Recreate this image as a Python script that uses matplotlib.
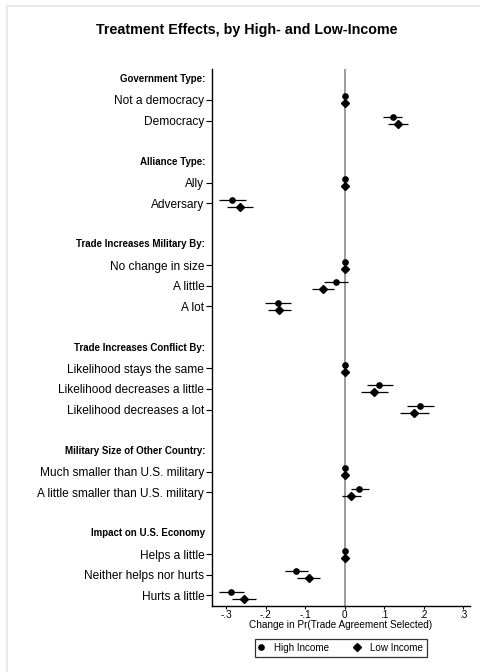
import matplotlib
matplotlib.use("Agg")
import matplotlib.pyplot as plt
from matplotlib.lines import Line2D
import numpy as np

plt.rcParams['font.family'] = ['Liberation Sans', 'DejaVu Sans']

# ---- data ----
groups = [
    ("Government Type:", ["Not a democracy", "Democracy"]),
    ("Alliance Type:", ["Ally", "Adversary"]),
    ("Trade Increases Military By:", ["No change in size", "A little", "A lot"]),
    ("Trade Increases Conflict By:", ["Likelihood stays the same", "Likelihood decreases a little",
                                      "Likelihood decreases a lot"]),
    ("Military Size of Other Country:", ["Much smaller than U.S. military",
                                         "A little smaller than U.S. military"]),
    ("Impact on U.S. Economy", ["Helps a little", "Neither helps nor hurts", "Hurts a little"]),
]

high_est = [0, 0.121, 0, -0.284, 0, -0.022, -0.169, 0, 0.087, 0.191, 0, 0.037, 0, -0.122, -0.287]
high_lo  = [0, 0.098, 0, -0.317, 0, -0.052, -0.201, 0, 0.056, 0.157, 0, 0.015, 0, -0.151, -0.317]
high_hi  = [0, 0.146, 0, -0.249, 0, 0.008, -0.136, 0, 0.121, 0.225, 0, 0.061, 0, -0.092, -0.255]

low_est = [0, 0.134, 0, -0.265, 0, -0.055, -0.166, 0, 0.074, 0.176, 0, 0.017, 0, -0.091, -0.255]
low_lo  = [0, 0.110, 0, -0.298, 0, -0.083, -0.195, 0, 0.040, 0.141, 0, -0.006, 0, -0.121, -0.284]
low_hi  = [0, 0.159, 0, -0.231, 0, -0.026, -0.136, 0, 0.109, 0.212, 0, 0.040, 0, -0.062, -0.224]

xticks = [-0.3, -0.2, -0.1, 0, 0.1, 0.2, 0.3]
xticklabels = ["-.3", "-.2", "-.1", "0", ".1", ".2", ".3"]

# ---- layout of rows ----
header_rows = []
item_rows = []
item_labels = []
r = 0
for gi, (hdr, items) in enumerate(groups):
    header_rows.append((r, hdr))
    r += 1
    for it in items:
        item_rows.append(r)
        item_labels.append(it)
        r += 1
    r += 1
item_rows = np.array(item_rows, dtype=float)

fig = plt.figure(figsize=(4.81, 6.72), dpi=100)
W, H = 481, 672
# light border
fig.add_artist(Line2D([6.5 / W, 6.5 / W], [0, 1 - 5.5 / H], color='#e6e6e6', lw=1.2))
fig.add_artist(Line2D([6.5 / W, 1], [1 - 5.5 / H, 1 - 5.5 / H], color='#e6e6e6', lw=1.2))

ax_l, ax_r, ax_t, ax_b = 212, 470, 69, 605.7
ax = fig.add_axes([ax_l / W, 1 - ax_b / H, (ax_r - ax_l) / W, (ax_b - ax_t) / H])

ax.axvline(0, color='#808080', lw=1.1, zorder=1)

off = 0.17
ax.hlines(item_rows - off, high_lo, high_hi, color='black', lw=0.9, zorder=2)
ax.hlines(item_rows + off, low_lo, low_hi, color='black', lw=0.9, zorder=2)
ax.plot(high_est, item_rows - off, 'o', color='black', ms=3.8, zorder=3, ls='none')
ax.plot(low_est, item_rows + off, 'D', color='black', ms=3.6, zorder=3, ls='none')

ax.set_xlim(-0.3355, 0.3168)
ax.set_ylim(r - 1.5, -0.5)

ax.set_yticks(item_rows)
ax.set_yticklabels(item_labels, fontsize=8.6)
ax.tick_params(axis='y', length=4, width=0.8, pad=1.5)
ax.set_xticks(xticks)
ax.set_xticklabels(xticklabels, fontsize=7.2)
ax.tick_params(axis='x', length=2.3, width=0.8, pad=1)

for rr, hdr in header_rows:
    ax.text(-0.026, rr, hdr, transform=ax.get_yaxis_transform(), ha='right', va='center',
            fontsize=7.0, fontweight='bold')

ax.set_xlabel("Change in Pr(Trade Agreement Selected)", fontsize=7.2, labelpad=0)

for s in ['top', 'right']:
    ax.spines[s].set_visible(False)
ax.spines['left'].set_linewidth(1.0)
ax.spines['bottom'].set_linewidth(1.0)

handles = [Line2D([], [], marker='o', color='black', ls='none', ms=3.8),
           Line2D([], [], marker='D', color='black', ls='none', ms=3.6)]
leg = ax.legend(handles, ["High Income", "Low Income"], ncol=2, loc='center',
                bbox_to_anchor=(0.5, (ax_b - 647.8) / (ax_b - ax_t)), frameon=True,
                fontsize=7.1, fancybox=False, handlelength=0.5, handletextpad=1.05,
                columnspacing=2.6, borderpad=0.4, borderaxespad=0)
leg.get_frame().set_edgecolor('black')
leg.get_frame().set_linewidth(0.9)

fig.text(246.7 / W, 1 - 30 / H, "Treatment Effects, by High- and Low-Income", ha='center',
         va='center', fontsize=10.3, fontweight='bold')

fig.savefig("out.png", dpi=100)
